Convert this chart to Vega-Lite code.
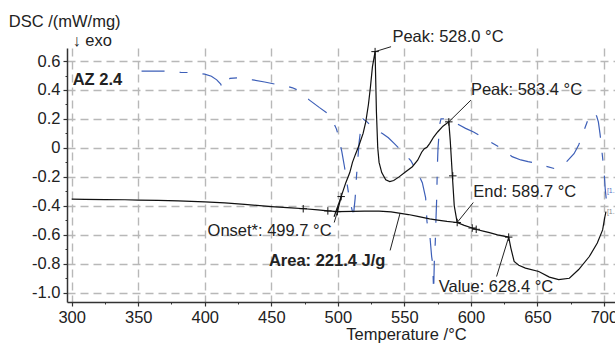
{
  "$schema": "https://vega.github.io/schema/vega-lite/v6.json",
  "width": 548,
  "height": 254,
  "autosize": "none",
  "padding": {"left": 67, "top": 48, "right": 0, "bottom": 41},
  "background": "white",
  "config": {
    "view": {"stroke": null},
    "font": "Liberation Sans",
    "axis": {"labelFont": "Liberation Sans", "titleFont": "Liberation Sans", "tickColor": "#333", "domainColor": "#333"},
    "text": {"font": "Liberation Sans"}
  },
  "resolve": {"axis": {"x": "independent", "y": "independent"}},
  "datasets": {
    "blue": [
      {"T": 352.5, "v": 0.53}, {"T": 370, "v": 0.53}, {"T": 382, "v": 0.522}, {"T": 390, "v": 0.52}, {"T": 400, "v": 0.51},
      {"T": 405, "v": 0.495}, {"T": 409, "v": 0.47}, {"T": 412, "v": 0.44}, {"T": 413.5, "v": 0.41}, {"T": 416, "v": 0.45},
      {"T": 419, "v": 0.48}, {"T": 425, "v": 0.485}, {"T": 436, "v": 0.47}, {"T": 445, "v": 0.455}, {"T": 453, "v": 0.44},
      {"T": 460, "v": 0.43}, {"T": 466, "v": 0.415}, {"T": 471, "v": 0.395}, {"T": 478.7, "v": 0.33}, {"T": 486, "v": 0.28},
      {"T": 493.7, "v": 0.23}, {"T": 497, "v": 0.17}, {"T": 499, "v": 0.13}, {"T": 500.5, "v": 0.08}, {"T": 503, "v": -0.025},
      {"T": 505, "v": -0.13}, {"T": 506.5, "v": -0.22}, {"T": 508, "v": -0.31}, {"T": 509.5, "v": -0.38}, {"T": 511, "v": -0.44},
      {"T": 512, "v": -0.44}, {"T": 513, "v": -0.35}, {"T": 514, "v": -0.2}, {"T": 515, "v": -0.08}, {"T": 516, "v": 0.04},
      {"T": 517.5, "v": 0.15}, {"T": 519, "v": 0.2}, {"T": 522, "v": 0.18}, {"T": 526, "v": 0.14}, {"T": 529, "v": 0.12},
      {"T": 533.5, "v": 0.1}, {"T": 538, "v": 0.07}, {"T": 542.5, "v": 0.03}, {"T": 549, "v": -0.03}, {"T": 555, "v": -0.09},
      {"T": 558, "v": -0.14}, {"T": 561, "v": -0.19}, {"T": 563.5, "v": -0.24}, {"T": 566, "v": -0.345}, {"T": 567, "v": -0.51},
      {"T": 569.3, "v": -0.62}, {"T": 570.5, "v": -0.75}, {"T": 571.3, "v": -0.8}, {"T": 572, "v": -0.99}, {"T": 572.6, "v": -0.75},
      {"T": 573.2, "v": -0.66}, {"T": 573.8, "v": -0.48}, {"T": 574.3, "v": -0.35}, {"T": 574.8, "v": -0.13}, {"T": 575.3, "v": 0.0},
      {"T": 576, "v": 0.09}, {"T": 576.5, "v": 0.16}, {"T": 577.5, "v": 0.2}, {"T": 580, "v": 0.2}, {"T": 583, "v": 0.19},
      {"T": 587, "v": 0.175}, {"T": 591, "v": 0.16}, {"T": 596, "v": 0.135}, {"T": 602, "v": 0.11}, {"T": 607.5, "v": 0.08},
      {"T": 615, "v": 0.04}, {"T": 622.5, "v": 0.0}, {"T": 631, "v": -0.06}, {"T": 637.5, "v": -0.083}, {"T": 643, "v": -0.095},
      {"T": 648.8, "v": -0.105}, {"T": 656, "v": -0.125}, {"T": 663.8, "v": -0.145}, {"T": 668, "v": -0.13}, {"T": 672, "v": -0.095},
      {"T": 677.5, "v": -0.04}, {"T": 681, "v": 0.02}, {"T": 685, "v": 0.12}, {"T": 689, "v": 0.22}, {"T": 692, "v": 0.245},
      {"T": 694.5, "v": 0.22}, {"T": 695.8, "v": 0.18}, {"T": 697, "v": 0.1}, {"T": 698, "v": 0.02}, {"T": 699, "v": -0.07},
      {"T": 700, "v": -0.15}, {"T": 701, "v": -0.29}, {"T": 701.8, "v": -0.36}
    ],
    "dsc": [
      {"T": 300, "v": -0.354}, {"T": 310, "v": -0.355}, {"T": 325, "v": -0.357}, {"T": 340, "v": -0.358}, {"T": 350, "v": -0.36},
      {"T": 365, "v": -0.362}, {"T": 380, "v": -0.365}, {"T": 400, "v": -0.372}, {"T": 415, "v": -0.38}, {"T": 430, "v": -0.39},
      {"T": 450, "v": -0.405}, {"T": 465, "v": -0.414}, {"T": 475, "v": -0.42}, {"T": 485, "v": -0.428}, {"T": 492.5, "v": -0.435},
      {"T": 499.7, "v": -0.44}, {"T": 502.5, "v": -0.336}, {"T": 506, "v": -0.24}, {"T": 509, "v": -0.17}, {"T": 511, "v": -0.1},
      {"T": 513, "v": -0.05}, {"T": 516, "v": 0.02}, {"T": 519, "v": 0.1}, {"T": 521, "v": 0.18}, {"T": 523, "v": 0.3},
      {"T": 524.5, "v": 0.42}, {"T": 526, "v": 0.56}, {"T": 528, "v": 0.665}, {"T": 529, "v": 0.25}, {"T": 530, "v": 0.0},
      {"T": 531, "v": -0.1}, {"T": 533, "v": -0.17}, {"T": 536, "v": -0.22}, {"T": 539, "v": -0.232}, {"T": 542, "v": -0.225},
      {"T": 546, "v": -0.2}, {"T": 551, "v": -0.165}, {"T": 556, "v": -0.13}, {"T": 560, "v": -0.085}, {"T": 563, "v": -0.03},
      {"T": 565, "v": -0.005}, {"T": 567, "v": 0.005}, {"T": 569, "v": 0.03}, {"T": 572, "v": 0.075}, {"T": 575, "v": 0.11},
      {"T": 579, "v": 0.15}, {"T": 583.4, "v": 0.18}, {"T": 584.5, "v": 0.05}, {"T": 586, "v": -0.18}, {"T": 587.5, "v": -0.4},
      {"T": 589.7, "v": -0.515}, {"T": 595, "v": -0.535}, {"T": 601, "v": -0.553}, {"T": 605, "v": -0.565}, {"T": 610, "v": -0.576},
      {"T": 614, "v": -0.585}, {"T": 620, "v": -0.6}, {"T": 628.4, "v": -0.616}, {"T": 630, "v": -0.69}, {"T": 632.5, "v": -0.784},
      {"T": 636, "v": -0.81}, {"T": 641, "v": -0.83}, {"T": 651, "v": -0.853}, {"T": 659, "v": -0.892}, {"T": 666, "v": -0.91},
      {"T": 674, "v": -0.9}, {"T": 681, "v": -0.84}, {"T": 689, "v": -0.75}, {"T": 695, "v": -0.657}, {"T": 699, "v": -0.566},
      {"T": 700.5, "v": -0.485}, {"T": 701.5, "v": -0.44}
    ],
    "base": [
      {"T": 499.7, "v": -0.44}, {"T": 511, "v": -0.438}, {"T": 520, "v": -0.436}, {"T": 531, "v": -0.436}, {"T": 540, "v": -0.442},
      {"T": 546, "v": -0.45}, {"T": 553, "v": -0.46}, {"T": 560, "v": -0.473}, {"T": 569, "v": -0.49}, {"T": 575, "v": -0.498},
      {"T": 582, "v": -0.507}, {"T": 589.7, "v": -0.515}
    ],
    "tangent": [{"T": 497.2, "v": -0.475}, {"T": 502.5, "v": -0.336}],
    "leaders": [
      {"x": 528.0, "y": 0.665, "x2": 540.0, "y2": 0.699},
      {"x": 583.4, "y": 0.18, "x2": 600.0, "y2": 0.33},
      {"x": 589.7, "y": -0.515, "x2": 601.8, "y2": -0.377},
      {"x": 499.7, "y": -0.44, "x2": 497.3, "y2": -0.515},
      {"x": 546.8, "y": -0.45, "x2": 539.3, "y2": -0.708},
      {"x": 628.4, "y": -0.616, "x2": 619.3, "y2": -0.888}
    ],
    "marks": [
      {"T": 474, "v": -0.42}, {"T": 492.5, "v": -0.435}, {"T": 499.7, "v": -0.44}, {"T": 502.5, "v": -0.336},
      {"T": 528.0, "v": 0.665}, {"T": 583.4, "v": 0.18}, {"T": 586.4, "v": -0.193}, {"T": 589.7, "v": -0.515},
      {"T": 601, "v": -0.553}, {"T": 604, "v": -0.562}, {"T": 628.4, "v": -0.616}
    ],
    "labelsLeft": [
      {"T": 541.0, "v": 0.768, "t": "Peak: 528.0 °C"},
      {"T": 600.0, "v": 0.4, "t": "Peak: 583.4 °C"},
      {"T": 601.8, "v": -0.305, "t": "End: 589.7 °C"},
      {"T": 575.8, "v": -0.961, "t": "Value: 628.4 °C"}
    ],
    "labelsRight": [{"T": 495.3, "v": -0.577, "t": "Onset*: 499.7 °C"}],
    "labelsBold": [
      {"T": 448.2, "v": -0.779, "t": "Area: 221.4 J/g"},
      {"T": 300.7, "v": 0.469, "t": "AZ 2.4"}
    ],
    "tags": [
      {"T": 702.2, "v": -0.3, "t": "[1.", "c": "blue"},
      {"T": 702.2, "v": -0.44, "t": "[1.", "c": "grey"}
    ]
  },
  "layer": [
    {
      "data": {"name": "blue"},
      "mark": {"type": "line", "color": "#3d5fb8", "strokeWidth": 1.2, "strokeDash": [23, 15, 8, 15]},
      "encoding": {
        "x": {"field": "T", "type": "quantitative", "scale": {"domain": [296.47, 708.3], "nice": false, "zero": false},
          "axis": {"orient": "bottom", "values": [300, 350, 400, 450, 500, 550, 600, 650, 700], "format": "d",
            "title": "Temperature /°C", "grid": true, "gridDash": [8, 5], "gridColor": "#b8b8b8", "gridWidth": 1.4,
            "tickSize": 4, "tickWidth": 1.2, "domainWidth": 1.5, "labelFontSize": 16.5, "labelColor": "#222",
            "labelBaseline": "alphabetic", "labelPadding": 16.5, "labelFlush": false, "labelOverlap": false,
            "titleFontSize": 16.5, "titleFontWeight": "normal", "titleColor": "#222", "titleX": 339, "titleY": 37,
            "titleAlign": "center", "titleBaseline": "alphabetic"}},
        "y": {"field": "v", "type": "quantitative", "scale": {"domain": [-1.064, 0.69], "nice": false, "zero": false},
          "axis": {"orient": "left", "values": [-1.0, -0.8, -0.6, -0.4, -0.2, 0, 0.2, 0.4, 0.6],
            "labelExpr": "datum.value == 0 ? '0' : replace(format(datum.value, '.1f'), '\u2212', '-')",
            "grid": true, "gridDash": [8, 5], "gridColor": "#b8b8b8", "gridWidth": 1.4,
            "tickSize": 4, "tickWidth": 1.2, "domainWidth": 1.5, "labelFontSize": 16.5, "labelColor": "#222",
            "labelPadding": 3, "labelBaseline": "middle", "labelOverlap": false, "labelFlush": false,
            "title": "DSC /(mW/mg)",
            "titleAngle": 0, "titleAlign": "left", "titleBaseline": "alphabetic", "titleX": -58.7, "titleY": -22,
            "titleFontSize": 16.5, "titleFontWeight": "normal", "titleColor": "#222"}}
      }
    },
    {
      "data": {"name": "dsc"},
      "mark": {"type": "point", "opacity": 0},
      "encoding": {
        "x": {"field": "T", "type": "quantitative", "scale": {"domain": [296.47, 708.3], "nice": false, "zero": false},
          "axis": {"orient": "bottom", "values": [325, 375, 425, 475, 525, 575, 625, 675], "labels": false, "domain": false,
            "grid": false, "tickSize": 2, "tickWidth": 1, "title": null}},
        "y": {"field": "v", "type": "quantitative", "scale": {"domain": [-1.064, 0.69], "nice": false, "zero": false},
          "axis": {"orient": "left", "values": [-0.9, -0.7, -0.5, -0.3, -0.1, 0.1, 0.3, 0.5], "labels": false, "domain": false,
            "grid": false, "tickSize": 2, "tickWidth": 1, "title": "↓  exo",
            "titleAngle": 0, "titleAlign": "left", "titleBaseline": "alphabetic", "titleX": 5, "titleY": -3,
            "titleFontSize": 16.5, "titleFontWeight": "normal", "titleColor": "#222"}}
      }
    },
    {
      "data": {"name": "dsc"},
      "mark": {"type": "line", "color": "#111", "strokeWidth": 1.2},
      "encoding": {
        "x": {"field": "T", "type": "quantitative", "scale": {"domain": [296.47, 708.3], "nice": false, "zero": false}, "axis": null},
        "y": {"field": "v", "type": "quantitative", "scale": {"domain": [-1.064, 0.69], "nice": false, "zero": false}, "axis": null}
      }
    },
    {
      "data": {"name": "base"},
      "mark": {"type": "line", "color": "#111", "strokeWidth": 1.2},
      "encoding": {
        "x": {"field": "T", "type": "quantitative", "scale": {"domain": [296.47, 708.3], "nice": false, "zero": false}, "axis": null},
        "y": {"field": "v", "type": "quantitative", "scale": {"domain": [-1.064, 0.69], "nice": false, "zero": false}, "axis": null}
      }
    },
    {
      "data": {"name": "tangent"},
      "mark": {"type": "line", "color": "#111", "strokeWidth": 1.2},
      "encoding": {
        "x": {"field": "T", "type": "quantitative", "scale": {"domain": [296.47, 708.3], "nice": false, "zero": false}, "axis": null},
        "y": {"field": "v", "type": "quantitative", "scale": {"domain": [-1.064, 0.69], "nice": false, "zero": false}, "axis": null}
      }
    },
    {
      "data": {"name": "leaders"},
      "mark": {"type": "rule", "color": "#222", "strokeWidth": 1},
      "encoding": {
        "x": {"field": "x", "type": "quantitative", "scale": {"domain": [296.47, 708.3], "nice": false, "zero": false}, "axis": null},
        "y": {"field": "y", "type": "quantitative", "scale": {"domain": [-1.064, 0.69], "nice": false, "zero": false}, "axis": null},
        "x2": {"field": "x2"},
        "y2": {"field": "y2"}
      }
    },
    {
      "data": {"name": "marks"},
      "mark": {"type": "point", "shape": "M-1,0L1,0M0,-1L0,1", "size": 56, "filled": false, "stroke": "#111", "strokeWidth": 1, "opacity": 1},
      "encoding": {
        "x": {"field": "T", "type": "quantitative", "scale": {"domain": [296.47, 708.3], "nice": false, "zero": false}, "axis": null},
        "y": {"field": "v", "type": "quantitative", "scale": {"domain": [-1.064, 0.69], "nice": false, "zero": false}, "axis": null}
      }
    },
    {
      "data": {"name": "labelsLeft"},
      "mark": {"type": "text", "align": "left", "baseline": "middle", "fontSize": 16.5, "color": "#222"},
      "encoding": {
        "x": {"field": "T", "type": "quantitative", "scale": {"domain": [296.47, 708.3], "nice": false, "zero": false}, "axis": null},
        "y": {"field": "v", "type": "quantitative", "scale": {"domain": [-1.064, 0.69], "nice": false, "zero": false}, "axis": null},
        "text": {"field": "t"}
      }
    },
    {
      "data": {"name": "labelsRight"},
      "mark": {"type": "text", "align": "right", "baseline": "middle", "fontSize": 16.5, "color": "#222"},
      "encoding": {
        "x": {"field": "T", "type": "quantitative", "scale": {"domain": [296.47, 708.3], "nice": false, "zero": false}, "axis": null},
        "y": {"field": "v", "type": "quantitative", "scale": {"domain": [-1.064, 0.69], "nice": false, "zero": false}, "axis": null},
        "text": {"field": "t"}
      }
    },
    {
      "data": {"name": "labelsBold"},
      "mark": {"type": "text", "align": "left", "baseline": "middle", "fontSize": 16.5, "fontWeight": "bold", "color": "#222"},
      "encoding": {
        "x": {"field": "T", "type": "quantitative", "scale": {"domain": [296.47, 708.3], "nice": false, "zero": false}, "axis": null},
        "y": {"field": "v", "type": "quantitative", "scale": {"domain": [-1.064, 0.69], "nice": false, "zero": false}, "axis": null},
        "text": {"field": "t"}
      }
    },
    {
      "data": {"name": "tags"},
      "mark": {"type": "text", "align": "left", "baseline": "middle", "fontSize": 7},
      "encoding": {
        "x": {"field": "T", "type": "quantitative", "scale": {"domain": [296.47, 708.3], "nice": false, "zero": false}, "axis": null},
        "y": {"field": "v", "type": "quantitative", "scale": {"domain": [-1.064, 0.69], "nice": false, "zero": false}, "axis": null},
        "text": {"field": "t"},
        "color": {"field": "c", "type": "nominal", "scale": {"domain": ["blue", "grey"], "range": ["#5a78c8", "#888888"]}, "legend": null}
      }
    }
  ]
}
